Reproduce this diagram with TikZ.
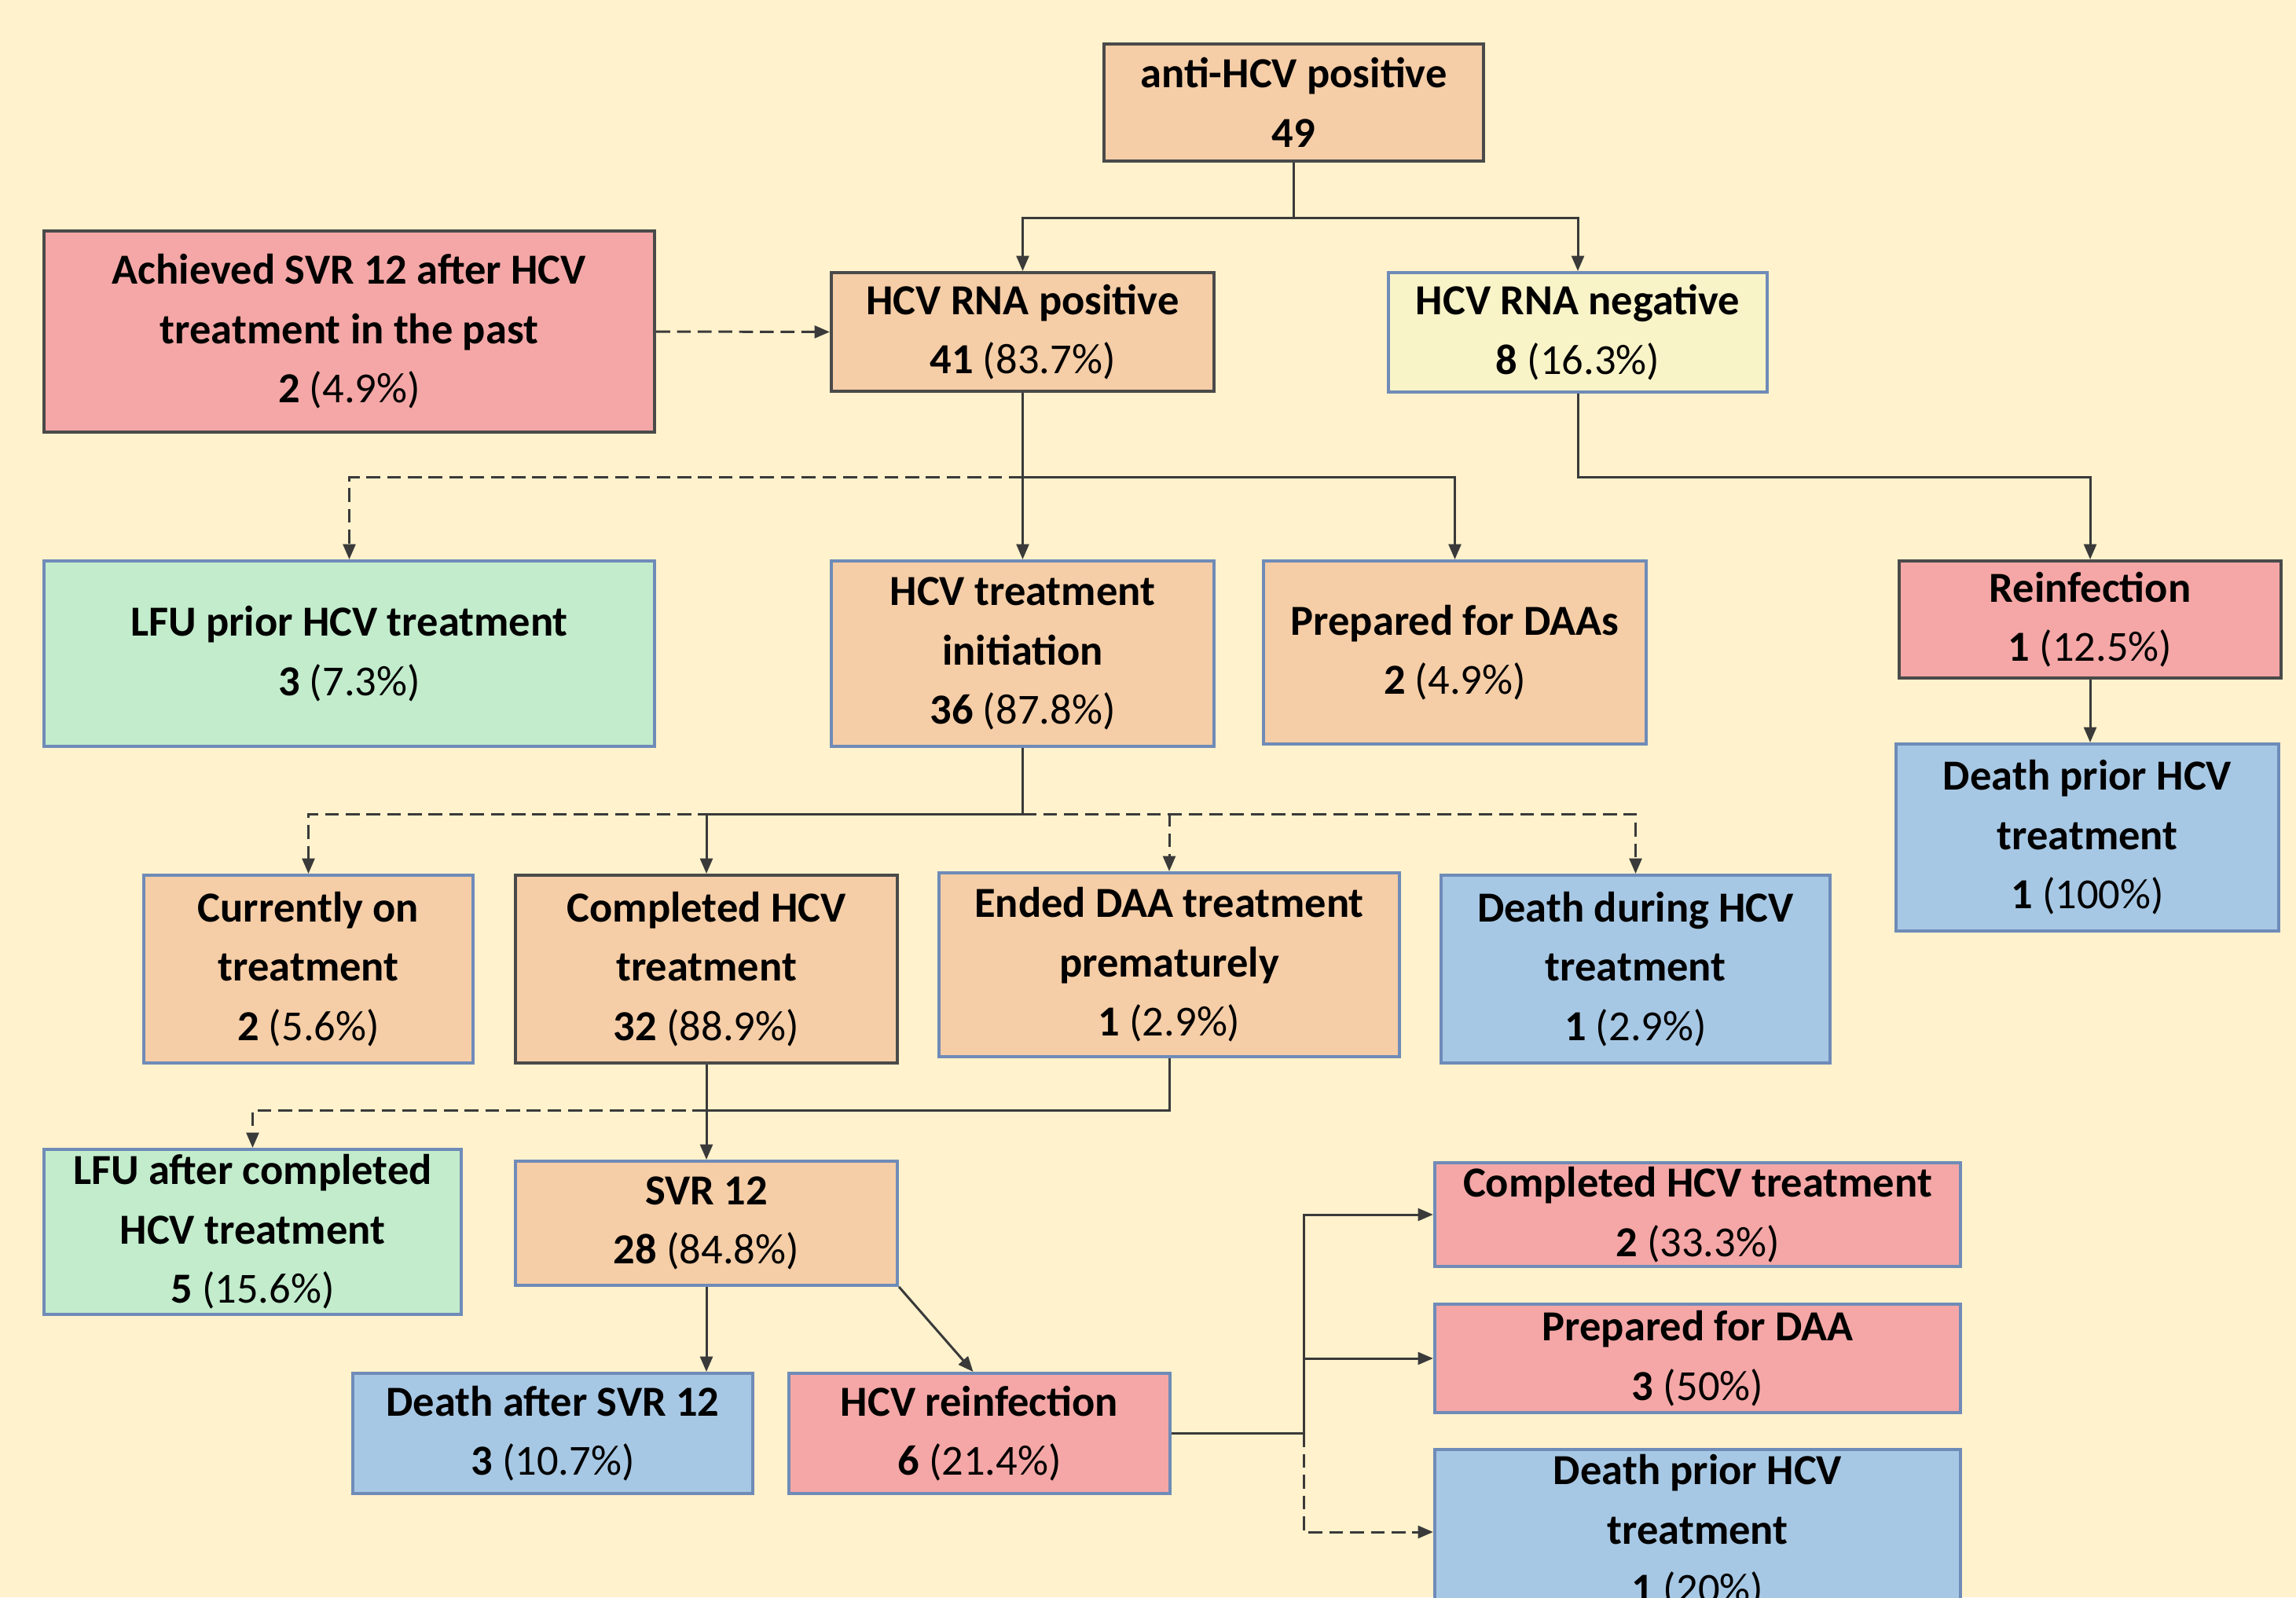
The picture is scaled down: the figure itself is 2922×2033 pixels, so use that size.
\documentclass[tikz,border=0pt]{standalone}
\usepackage{fontspec}
\setmainfont{Carlito}
\usetikzlibrary{arrows.meta,calc}
\definecolor{bgc}{HTML}{FFF2CC}
\definecolor{peach}{HTML}{F5CDA6}
\definecolor{pinkc}{HTML}{F4A7A6}
\definecolor{greenc}{HTML}{C2ECCC}
\definecolor{bluec}{HTML}{A7C8E4}
\definecolor{paley}{HTML}{F9F3C8}
\definecolor{bdark}{HTML}{4A4A4A}
\definecolor{bblue}{HTML}{6F8BB8}
\definecolor{linec}{HTML}{3A3A3A}
\tikzset{
  box/.style={rectangle, inner sep=0pt, line width=1.1pt, align=center,
    font=\fontsize{15.5}{21.5}\selectfont},
  dk/.style={draw=bdark},
  bl/.style={draw=bblue},
  conn/.style={draw=linec, line width=0.85pt},
  arr/.style={conn, -{Triangle[length=5.5pt,width=4.5pt]}},
  dline/.style={dash pattern=on 5pt off 2.5pt}
}
\begin{document}
\begin{tikzpicture}[x=0.01cm,y=-0.01cm]
\useasboundingbox (0,0) rectangle (2922,2033);
\fill[bgc] (0,0) rectangle (2922,2033);
\clip (0,0) rectangle (2922,2033);

% nodes
\node[box,dk,fill=peach,minimum width=4.83cm,minimum height=1.49cm] (top) at (1646.5,130.5)
  {\textbf{anti-HCV positive}\\\textbf{49}};
\node[box,dk,fill=pinkc,minimum width=7.77cm,minimum height=2.56cm] (achv) at (444.5,422)
  {\textbf{Achieved SVR 12 after HCV}\\\textbf{treatment in the past}\\\textbf{2} (4.9\%)};
\node[box,dk,fill=peach,minimum width=4.87cm,minimum height=1.51cm] (rnapos) at (1301.5,422.5)
  {\textbf{HCV RNA positive}\\\textbf{41} (83.7\%)};
\node[box,bl,fill=paley,minimum width=4.82cm,minimum height=1.52cm] (rnaneg) at (2008,423)
  {\textbf{HCV RNA negative}\\\textbf{8} (16.3\%)};
\node[box,bl,fill=greenc,minimum width=7.77cm,minimum height=2.36cm] (lfu1) at (444.5,832)
  {\textbf{LFU prior HCV treatment}\\\textbf{3} (7.3\%)};
\node[box,bl,fill=peach,minimum width=4.87cm,minimum height=2.36cm] (init) at (1301.5,832)
  {\textbf{HCV treatment}\\\textbf{initiation}\\\textbf{36} (87.8\%)};
\node[box,bl,fill=peach,minimum width=4.87cm,minimum height=2.33cm] (prep) at (1851.5,830.5)
  {\textbf{Prepared for DAAs}\\\textbf{2} (4.9\%)};
\node[box,dk,fill=pinkc,minimum width=4.86cm,minimum height=1.49cm] (reinf) at (2660,788.5)
  {\textbf{Reinfection}\\\textbf{1} (12.5\%)};
\node[box,bl,fill=bluec,minimum width=4.87cm,minimum height=2.38cm] (deathR) at (2656.5,1066)
  {\textbf{Death prior HCV}\\\textbf{treatment}\\\textbf{1} (100\%)};
\node[box,bl,fill=peach,minimum width=4.19cm,minimum height=2.39cm] (curr) at (392.5,1233.5)
  {\textbf{Currently on}\\\textbf{treatment}\\\textbf{2} (5.6\%)};
\node[box,dk,fill=peach,minimum width=4.86cm,minimum height=2.39cm] (compl) at (899,1233.5)
  {\textbf{Completed HCV}\\\textbf{treatment}\\\textbf{32} (88.9\%)};
\node[box,bl,fill=peach,minimum width=5.86cm,minimum height=2.34cm] (ended) at (1488,1228)
  {\textbf{Ended DAA treatment}\\\textbf{prematurely}\\\textbf{1} (2.9\%)};
\node[box,bl,fill=bluec,minimum width=4.95cm,minimum height=2.39cm] (deathD) at (2081.5,1233.5)
  {\textbf{Death during HCV}\\\textbf{treatment}\\\textbf{1} (2.9\%)};
\node[box,bl,fill=greenc,minimum width=5.31cm,minimum height=2.10cm] (lfu2) at (321.5,1568)
  {\textbf{LFU after completed}\\\textbf{HCV treatment}\\\textbf{5} (15.6\%)};
\node[box,bl,fill=peach,minimum width=4.86cm,minimum height=1.58cm] (svr) at (899,1557)
  {\textbf{SVR 12}\\\textbf{28} (84.8\%)};
\node[box,bl,fill=bluec,minimum width=5.09cm,minimum height=1.53cm] (deathS) at (703.5,1824.5)
  {\textbf{Death after SVR 12}\\\textbf{3} (10.7\%)};
\node[box,bl,fill=pinkc,minimum width=4.85cm,minimum height=1.53cm] (hcvre) at (1246.5,1824.5)
  {\textbf{HCV reinfection}\\\textbf{6} (21.4\%)};
\node[box,bl,fill=pinkc,minimum width=6.69cm,minimum height=1.32cm] (complR) at (2160.5,1546)
  {\textbf{Completed HCV treatment}\\\textbf{2} (33.3\%)};
\node[box,bl,fill=pinkc,minimum width=6.69cm,minimum height=1.38cm] (prepR) at (2160.5,1729)
  {\textbf{Prepared for DAA}\\\textbf{3} (50\%)};
\node[box,bl,fill=bluec,minimum width=6.69cm,minimum height=2.10cm] (deathB) at (2160.5,1950)
  {\textbf{Death prior HCV}\\\textbf{treatment}\\\textbf{1} (20\%)};

% connectors
\coordinate (j1) at ($(top.south)+(0,71)$);
\draw[conn] (top.south) -- (j1);
\draw[arr] (j1) -| (rnapos.north);
\draw[arr] (j1) -| (rnaneg.north);

\draw[arr,dline] (achv.east) -- (rnapos.west);

\coordinate (j2) at ($(rnapos.south)+(0,108)$);
\draw[conn] (rnapos.south) -- (j2);
\draw[arr,dline] (j2) -| (lfu1.north);
\draw[arr] (j2) -- (init.north);
\draw[arr] (j2) -| (prep.north);

\coordinate (j3) at ($(rnaneg.south)+(0,107)$);
\draw[arr] (rnaneg.south) -- (j3) -| (reinf.north);
\draw[arr] (reinf.south) -- (reinf.south |- deathR.north);

\coordinate (j4) at ($(init.south)+(0,84)$);
\draw[arr,dline] (j4) -| (curr.north);
\draw[arr,dline] (j4) -| (ended.north);
\draw[arr,dline] (j4) -| (deathD.north);
\draw[conn] (init.south) -- (j4);
\draw[arr] (j4) -| (compl.north);

\coordinate (j5) at ($(compl.south)+(0,58)$);
\draw[conn] (compl.south) -- (j5);
\draw[conn] (ended.south) |- (j5);
\draw[arr,dline] (j5) -| (lfu2.north);
\draw[arr] (j5) -- (svr.north);

\draw[arr] (svr.south) -- (svr.south |- deathS.north);
\draw[arr] (svr.south east) -- ($(hcvre.north)+(-8,0)$);

\coordinate (j6) at ($(hcvre.east)+(168,0)$);
\draw[conn] (hcvre.east) -- (j6);
\draw[arr] (j6) |- (complR.west);
\draw[arr] (j6) |- (prepR.west);
\draw[arr,dline] (j6) |- (deathB.west);
\end{tikzpicture}
\end{document}
